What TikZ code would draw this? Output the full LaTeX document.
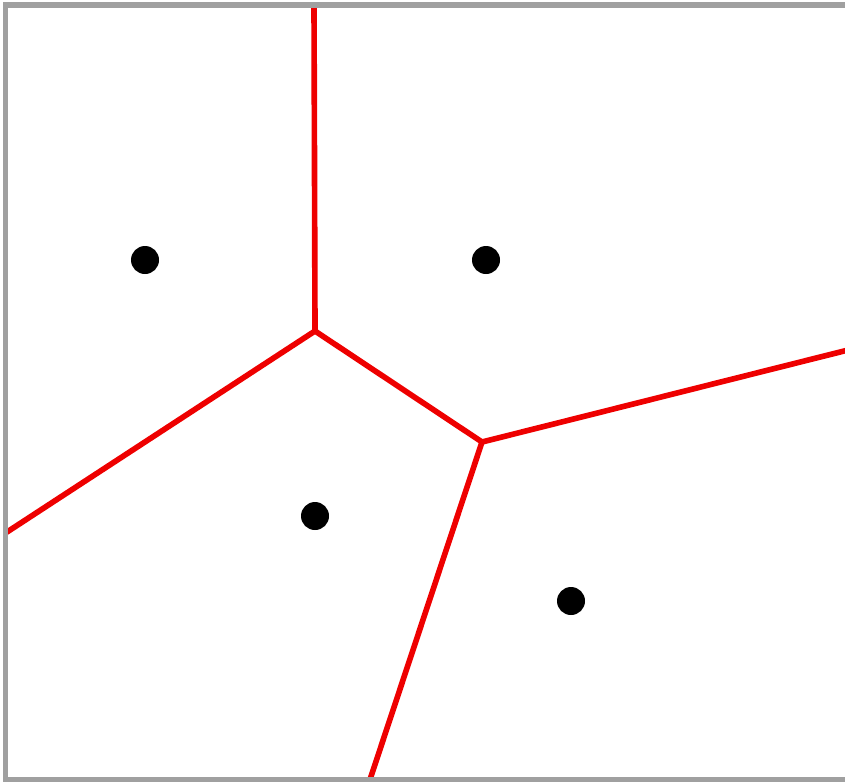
\documentclass[tikz,border=0pt]{standalone}
\usepackage{tikz}
\usetikzlibrary{positioning}
\definecolor{frame}{HTML}{A0A0A0}
\definecolor{cell}{HTML}{EE0000}

\begin{document}
\begin{tikzpicture}[x=0.025cm, y=-0.025cm,
    site/.style={circle, fill=black, inner sep=0pt, minimum size=0.7cm},
    border/.style={draw=frame, line width=3.8pt},
    edge/.style={draw=cell, line width=4pt, line join=round}]
    \useasboundingbox (0,0) rectangle (845,783);
    \clip (0,0) rectangle (845,783);
    % sites
    \node[site] (s1) at (145,260) {};
    \node[site] (s2) at (486,260) {};
    \node[site] (s3) at (315,516) {};
    \node[site] (s4) at (571,601) {};
    % Voronoi vertices and where the edges leave the frame
    \coordinate (v1) at (315,331);
    \coordinate (v2) at (482,442);
    \coordinate (top) at (314,5);
    \coordinate (left) at (5.5,533);
    \coordinate (right) at (860,347);
    \coordinate (bottom) at (370,779.5);
    \draw[edge] (top) -- (v1) -- (v2) -- (bottom);
    \draw[edge] (left) -- (v1);
    \draw[edge] (v2) -- (right);
    % frame of the region, right side runs off the page
    \draw[border] (5.5,5) rectangle (870,779.5);
\end{tikzpicture}
\end{document}
